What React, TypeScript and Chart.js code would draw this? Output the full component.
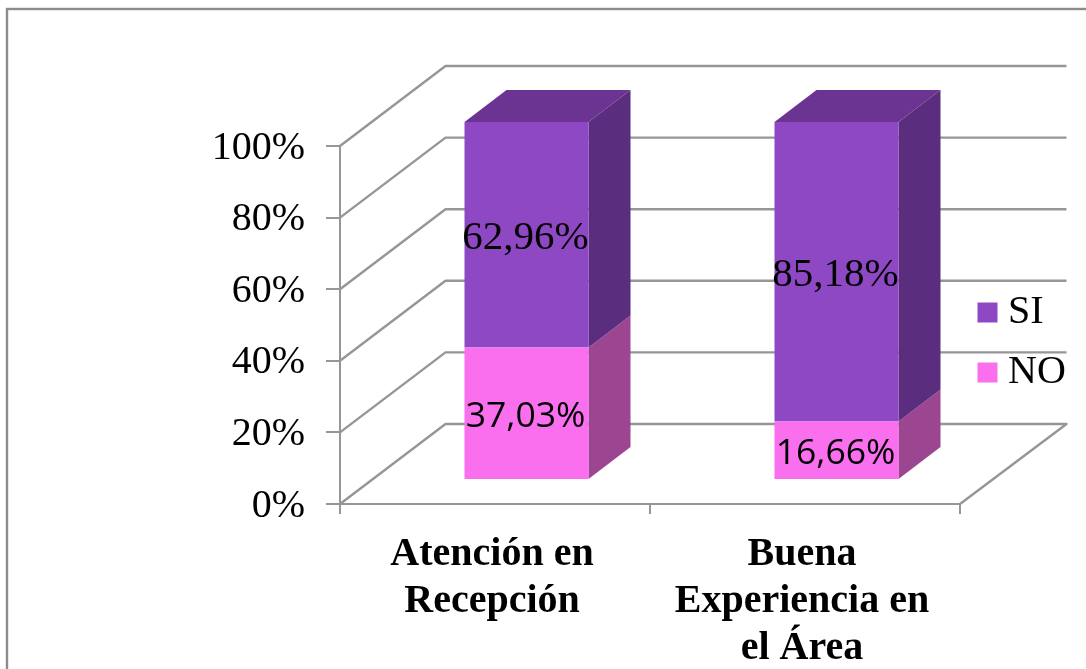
import React, { useEffect, useRef } from "react";
import { Chart, registerables } from "chart.js";

Chart.register(...registerables);

const categories = [["Atención en", "Recepción"], ["Buena", "Experiencia en", "el Área"]];
const noValues = [37.03, 16.66];
const siValues = [62.96, 85.18];
const tickStep = 20;

const share = (v: number, i: number) => (v / (noValues[i] + siValues[i])) * 100;
const label = (v: number) => v.toFixed(2).replace(".", ",") + "%";

const GRID = "#969696";
const WALL_DX = 105.5;
const WALL_DY = 80;
const BAR_DX = 31.5;
const BAR_DY = 24;
const FACE_DX = 42;
const FACE_DY = 32;
const SERIF = "'Liberation Serif', serif";

const scene = {
  id: "scene",
  beforeDraw(chart: any) {
    const { ctx, width, height } = chart;
    ctx.save();
    ctx.fillStyle = "#fff";
    ctx.fillRect(0, 0, width, height);
    ctx.strokeStyle = "#8c8c8c";
    ctx.lineWidth = 2.4;
    ctx.strokeRect(7, 9, width + 20, height + 20);
    ctx.restore();
  },
  afterLayout(chart: any) {
    const l = chart.legend;
    l.left = 967;
    l.right = 1086;
    l.top = 272.5;
    l.bottom = 420;
  },
  beforeDatasetsDraw(chart: any) {
    const { ctx, chartArea: a, scales } = chart;
    ctx.save();
    ctx.strokeStyle = GRID;
    ctx.lineWidth = 2.4;
    ctx.lineJoin = "round";
    for (const t of scales.y.ticks) {
      const y = scales.y.getPixelForValue(t.value);
      ctx.beginPath();
      ctx.moveTo(a.left, y);
      ctx.lineTo(a.left + WALL_DX, y - WALL_DY);
      ctx.lineTo(a.right + WALL_DX + 1, y - WALL_DY);
      if (t.value === 0) ctx.lineTo(a.right, y);
      ctx.stroke();
    }
    ctx.restore();
    // side and top faces of every bar, from the library's own elements
    ctx.save();
    ctx.translate(BAR_DX, -BAR_DY);
    chart.data.datasets.forEach((ds: any, d: number) => {
      chart.getDatasetMeta(d).data.forEach((el: any) => {
        const l = el.x - el.width / 2;
        const r = el.x + el.width / 2;
        ctx.fillStyle = ds.sideColor;
        ctx.beginPath();
        ctx.moveTo(r, el.y);
        ctx.lineTo(r + FACE_DX, el.y - FACE_DY);
        ctx.lineTo(r + FACE_DX, el.base - FACE_DY);
        ctx.lineTo(r, el.base);
        ctx.closePath();
        ctx.fill();
        if (ds.topColor) {
          ctx.fillStyle = ds.topColor;
          ctx.beginPath();
          ctx.moveTo(l, el.y);
          ctx.lineTo(l + FACE_DX, el.y - FACE_DY);
          ctx.lineTo(r + FACE_DX, el.y - FACE_DY);
          ctx.lineTo(r, el.y);
          ctx.closePath();
          ctx.fill();
        }
      });
    });
    ctx.restore();
    ctx.save();
    ctx.translate(BAR_DX, -BAR_DY);
  },
  afterDatasetsDraw(chart: any) {
    const { ctx } = chart;
    ctx.restore();
    ctx.save();
    ctx.translate(BAR_DX, -BAR_DY);
    ctx.textAlign = "center";
    ctx.textBaseline = "middle";
    ctx.fillStyle = "#000";
    chart.data.datasets.forEach((ds: any, d: number) => {
      chart.getDatasetMeta(d).data.forEach((el: any, i: number) => {
        ctx.font = ds.labelFont;
        ctx.fillText(label(ds.raw[i]), el.x - 1, (el.y + el.base) / 2 + 4);
      });
    });
    ctx.restore();
  },
};

export default function App() {
  const ref = useRef<HTMLCanvasElement>(null);
  useEffect(() => {
    const chart = new Chart(ref.current!, {
      type: "bar",
      data: {
        labels: categories as any,
        datasets: [
          {
            label: "NO",
            data: noValues.map(share),
            raw: noValues,
            backgroundColor: "#F96FEE",
            sideColor: "#9C4692",
            labelFont: "35.5px 'Open Sans', sans-serif",
            clip: false,
          },
          {
            label: "SI",
            data: siValues.map(share),
            raw: siValues,
            backgroundColor: "#8E48C4",
            sideColor: "#5A2D7E",
            topColor: "#6C3492",
            labelFont: `41px ${SERIF}`,
            clip: false,
          },
        ] as any,
      },
      plugins: [scene],
      options: {
        responsive: false,
        animation: false,
        events: [],
        layout: { padding: { top: 146, right: 126, left: 0, bottom: 0 } },
        datasets: { bar: { categoryPercentage: 1, barPercentage: 0.4, borderWidth: 0 } },
        plugins: {
          title: { display: false },
          tooltip: { enabled: false },
          legend: {
            position: "chartArea",
            align: "start",
            reverse: true,
            labels: {
              usePointStyle: true,
              pointStyle: "rect",
              boxWidth: 1,
              boxHeight: 20,
              padding: 20,
              color: "#000",
              font: { family: SERIF, size: 40, lineHeight: 1.2 },
            },
          },
        },
        scales: {
          x: {
            stacked: true,
            offset: true,
            afterFit: (s: any) => { s.height = 165; },
            border: { color: GRID, width: 2 },
            grid: { offset: true, drawOnChartArea: false, color: GRID, lineWidth: 2, tickLength: 10 },
            ticks: {
              color: "#000",
              autoSkip: false,
              maxRotation: 0,
              padding: 17,
              labelOffset: -3,
              font: { family: SERIF, size: 40, weight: "bold", lineHeight: 1.175 },
            },
          },
          y: {
            stacked: true,
            min: 0,
            max: 100,
            afterFit: (s: any) => { s.width = 340; },
            border: { color: GRID, width: 2 },
            grid: { drawOnChartArea: false, color: GRID, lineWidth: 2, tickLength: 14 },
            ticks: {
              color: "#000",
              stepSize: tickStep,
              padding: 21,
              labelOffset: 2,
              callback: (v: any) => v + "%",
              font: { family: SERIF, size: 40 },
            },
          },
        },
      } as any,
    });
    return () => chart.destroy();
  }, []);
  return (
    <div style={{ position: "fixed", left: 0, top: 0, width: 1086, height: 669, overflow: "hidden" }}>
      <canvas ref={ref} width={1086} height={669} style={{ display: "block" }} />
    </div>
  );
}
